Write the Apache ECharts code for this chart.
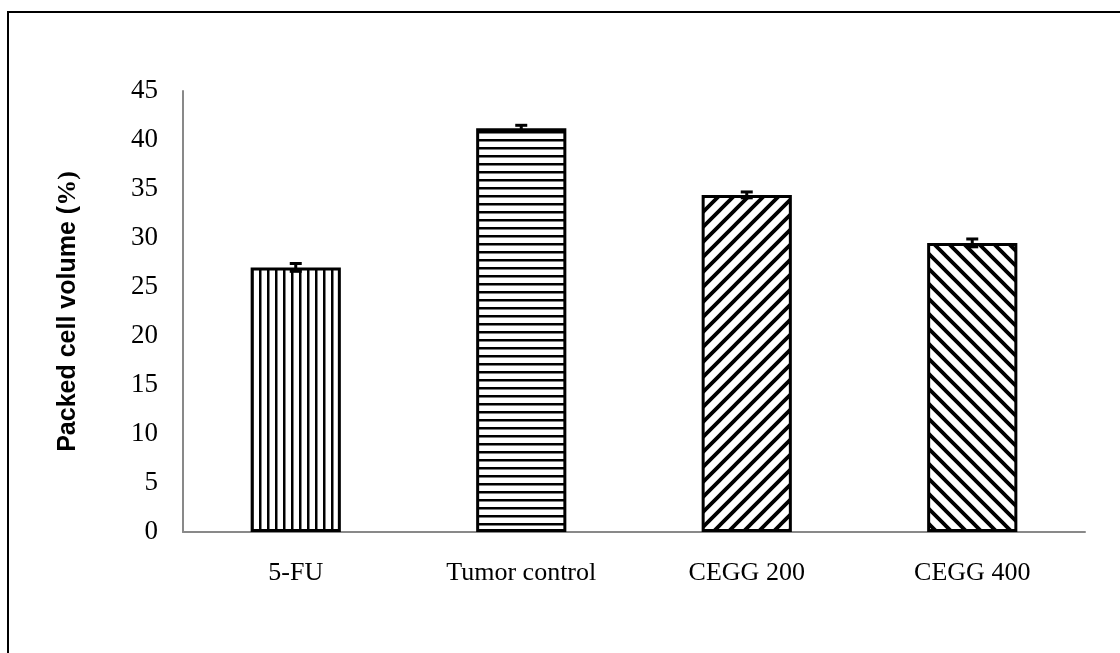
<!DOCTYPE html>
<html><head><meta charset="utf-8">
<script src="https://cdn.jsdelivr.net/npm/echarts@6/dist/echarts.min.js"></script>
<style>html,body{margin:0;padding:0;background:#fff}#c{width:1120px;height:653px}</style>
</head><body><div id="c"></div>
<script>
const categories = ['5-FU', 'Tumor control', 'CEGG 200', 'CEGG 400'];
const values = [27.0, 41.2, 34.4, 29.5];
const errors = [0.4, 0.3, 0.3, 0.4];
const yTicks = [0, 5, 10, 15, 20, 25, 30, 35, 40, 45];

function makePattern(kind) {
  const c = document.createElement('canvas');
  const ctx = c.getContext('2d');
  if (kind === 'v') {
    c.width = 8; c.height = 8;
    ctx.fillStyle = '#fff'; ctx.fillRect(0,0,8,8);
    ctx.fillStyle = '#000'; ctx.fillRect(3,0,2.5,8);
  } else if (kind === 'h') {
    c.width = 8; c.height = 8;
    ctx.fillStyle = '#fff'; ctx.fillRect(0,0,8,8);
    ctx.fillStyle = '#000'; ctx.fillRect(0,3,8,2.5);
  } else {
    const s = 15;
    c.width = s; c.height = s;
    ctx.fillStyle = '#fff'; ctx.fillRect(0,0,s,s);
    ctx.strokeStyle = '#000'; ctx.lineWidth = 3.8;
    ctx.beginPath();
    if (kind === 'd1') {
      ctx.moveTo(-s, 2*s); ctx.lineTo(2*s, -s);
      ctx.moveTo(-s, s); ctx.lineTo(s, -s);
      ctx.moveTo(0, 2*s); ctx.lineTo(2*s, 0);
    } else {
      ctx.moveTo(-s, -s); ctx.lineTo(2*s, 2*s);
      ctx.moveTo(-s, 0); ctx.lineTo(s, 2*s);
      ctx.moveTo(0, -s); ctx.lineTo(2*s, s);
    }
    ctx.stroke();
  }
  return {image: c, repeat: 'repeat'};
}
const patterns = [makePattern('v'), makePattern('h'), makePattern('d1'), makePattern('d2')];

const chart = echarts.init(document.getElementById('c'), null, {renderer: 'canvas'});
chart.setOption({
  backgroundColor: '#fff',
  animation: false,
  graphic: [{
    type: 'rect', shape: {x: 8, y: 12, width: 1200, height: 800},
    style: {fill: 'none', stroke: '#000', lineWidth: 2}, silent: true
  }],
  grid: {left: 183, right: 35, top: 91, bottom: 121},
  xAxis: {
    type: 'category', data: categories,
    axisLine: {lineStyle: {color: '#898989', width: 2}},
    axisTick: {show: false},
    axisLabel: {color: '#000', fontFamily: 'Liberation Serif', fontSize: 26, margin: 28}
  },
  yAxis: {
    type: 'value', min: 0, max: 45, interval: 5,
    splitLine: {show: false},
    axisLine: {show: true, lineStyle: {color: '#898989', width: 2}},
    axisTick: {show: false},
    axisLabel: {color: '#000', fontFamily: 'Liberation Serif', fontSize: 27, margin: 25},
    name: '{a|Packed cell volume (}{b|%)}',
    nameLocation: 'middle', nameGap: 102,
    nameTextStyle: {
      rich: {
        a: {fontFamily: 'Liberation Sans', fontWeight: 'bold', fontSize: 25, color: '#000'},
        b: {fontFamily: 'Liberation Serif', fontWeight: 'bold', fontSize: 26, color: '#000'}
      }
    }
  },
  series: [{
    type: 'bar', barWidth: '40%',
    data: values.map((v, i) => ({value: v, itemStyle: {color: patterns[i]}})),
    itemStyle: {borderColor: '#000', borderWidth: 3}
  }, {
    type: 'custom',
    data: values.map((v, i) => [i, v, errors[i]]),
    z: 10,
    renderItem: function (params, api) {
      const x = api.value(0), v = api.value(1), e = api.value(2);
      const top = api.coord([x, v + e]);
      const bot = api.coord([x, v - e]);
      const hw = 6;
      const st = {stroke: '#000', lineWidth: 3};
      return {type: 'group', children: [
        {type: 'line', shape: {x1: top[0], y1: top[1], x2: bot[0], y2: bot[1]}, style: st},
        {type: 'line', shape: {x1: top[0]-hw, y1: top[1], x2: top[0]+hw, y2: top[1]}, style: st},
        {type: 'line', shape: {x1: bot[0]-hw, y1: bot[1], x2: bot[0]+hw, y2: bot[1]}, style: st}
      ]};
    }
  }]
});
</script></body></html>
